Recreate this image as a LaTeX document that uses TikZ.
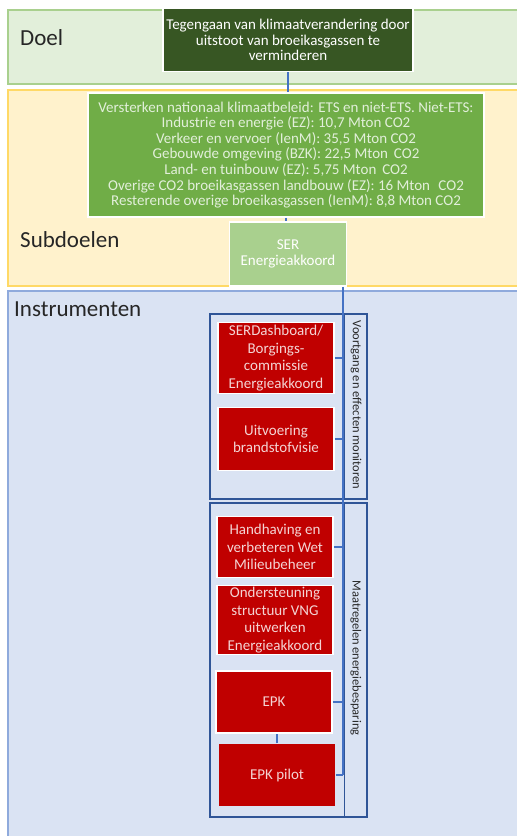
\documentclass[tikz,border=0pt]{standalone}
\usepackage{fontspec}
\setmainfont{Carlito}
\usetikzlibrary{positioning}

\definecolor{doelfill}{HTML}{E2EFDA}
\definecolor{doelrand}{HTML}{A9D08E}
\definecolor{subfill}{HTML}{FFF2CC}
\definecolor{subrand}{HTML}{FFD966}
\definecolor{instrfill}{HTML}{DAE3F3}
\definecolor{instrrand}{HTML}{8FAADC}
\definecolor{donkergroen}{HTML}{375623}
\definecolor{groen}{HTML}{70AD47}
\definecolor{lichtgroen}{HTML}{A9D08E}
\definecolor{rood}{HTML}{C00000}
\definecolor{roodtekst}{HTML}{F4D4D4}
\definecolor{kader}{HTML}{2F5597}
\definecolor{lijn}{HTML}{4472C4}

\begin{document}
\begin{tikzpicture}[
		x=1pt, y=-1pt,
		node distance=12pt,
		band/.style={line width=1.5pt},
		block/.style={draw=white, line width=1.5pt, minimum width=116pt, align=center, inner sep=1pt, font=\fontsize{15}{15.6}\selectfont},
		instr/.style={block, fill=rood, text=roodtekst, font=\fontsize{15}{17.5}\selectfont},
		kaderbox/.style={draw=kader, line width=1.6pt},
		conn/.style={draw=lijn, line width=1.3pt},
		title/.style={anchor=west, inner sep=0pt, font=\fontsize{23}{27}\selectfont, text=black!85},
		side/.style={rotate=-90, inner sep=0pt, font=\fontsize{12.5}{14}\selectfont, text=black!85},
	]
		\useasboundingbox (0,0) rectangle (517,836);
		\draw[band, draw=doelrand, fill=doelfill] (8,10) rectangle (530,84);
		\draw[band, draw=subrand, fill=subfill] (8,90) rectangle (530,286);
		\draw[band, draw=instrrand, fill=instrfill] (8,291) rectangle (530,850);
		\node[title] (doel) at (20,38) {Doel};
		\node[title] (subdoelen) at (20,240) {Subdoelen};
		\node[title] (instrumenten) at (14,309) {Instrumenten};

		\draw[kaderbox] (210,314) rectangle (367,499);
		\draw[kaderbox, line width=1pt] (344,314) -- (344,499);
		\draw[kaderbox] (210,503) rectangle (367,817);
		\draw[kaderbox, line width=1pt] (344,503) -- (344,817);
		\node[side] (monitoren) at (356,405) {Voortgang en effecten monitoren};
		\node[side] (besparing) at (356,658) {Maatregelen\,energiebesparing};

		\node[block, fill=donkergroen, text=white, minimum width=250pt, minimum height=63pt] (goal) at (288,40) {Tegengaan van klimaatverandering door\\uitstoot van broeikasgassen te\\verminderen};
		\node[block, fill=groen, text=doelfill, minimum width=396pt, minimum height=124pt] (sub) at (286,155) {Versterken nationaal klimaatbeleid: ETS en niet-ETS. Niet-ETS:\\Industrie en energie (EZ): 10,7 Mton CO2\\Verkeer en vervoer (IenM): 35,5 Mton CO2\\Gebouwde omgeving (BZK): 22,5 Mton\, CO2\\Land- en tuinbouw (EZ): 5,75 Mton\, CO2\\Overige CO2 broeikasgassen landbouw (EZ): 16 Mton\,\, CO2\\Resterende overige broeikasgassen (IenM): 8,8 Mton CO2};
		\node[block, fill=lichtgroen, text=white, minimum width=117pt, minimum height=64pt] (ser) at (288,254) {SER\\Energieakkoord};

		\node[instr, minimum height=71pt] (dash) at (276,358) {SERDashboard/\\Borgings-\\commissie\\Energieakkoord};
		\node[instr, minimum height=63pt] (uitv) at (276,439) {Uitvoering\\brandstofvisie};
		\node[instr, minimum height=61pt] (handh) at (275,547) {Handhaving en\\verbeteren Wet\\Milieubeheer};
		\node[instr, minimum height=69pt] (onder) at (275,620) {Ondersteuning\\structuur VNG\\uitwerken\\Energieakkoord};
		\node[instr, minimum height=62pt] (epk) at (274,702) {EPK};
		\node[instr, draw=none, minimum height=62pt] (pilot) at (277,775) {EPK pilot};

		\coordinate (trunk) at (343,0);
		\draw[conn] (goal.south) -- (goal.south |- sub.north);
		\draw[conn] (sub.south) -- (sub.south |- ser.north);
		\draw[conn] (ser.south -| trunk) -- (trunk |- pilot.east);
		\draw[conn] (dash.east) -- (dash.east -| trunk);
		\draw[conn] (uitv.east) -- (uitv.east -| trunk);
		\draw[conn] (handh.east) -- (handh.east -| trunk);
		\draw[conn] (epk.east) -- (epk.east -| trunk);
		\draw[conn] (pilot.east) -- (pilot.east -| trunk);
		\draw[conn] (pilot.north) -- (pilot.north |- epk.south);
	\end{tikzpicture}
\end{document}
